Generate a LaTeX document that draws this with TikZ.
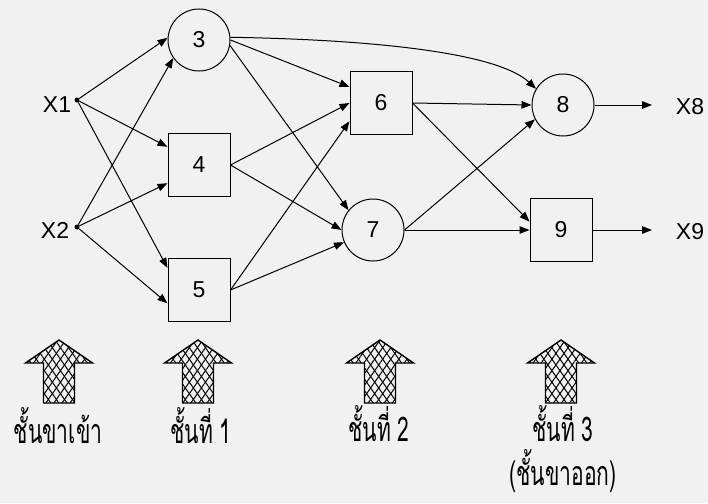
\documentclass[tikz,border=0pt]{standalone}
\usepackage{fontspec}
\setmainfont{Liberation Sans}
\newfontfamily\thaifont[Script=Thai,FakeStretch=0.62]{Loma}
\usetikzlibrary{arrows.meta,patterns.meta}
\definecolor{bg}{RGB}{241,241,241}
\begin{document}
\begin{tikzpicture}[x=1pt,y=-1pt,
  every node/.style={font=\fontsize{23}{26}\selectfont},
  boxnode/.style={draw,line width=1pt,minimum width=62pt,minimum height=63pt,inner sep=0pt},
  circnode/.style={draw,circle,line width=1pt,minimum size=62pt,inner sep=0pt},
  dotnode/.style={circle,fill,inner sep=0pt,minimum size=5pt},
  conn/.style={line width=1pt,-{Triangle[length=10pt,width=7.5pt]}},
  thailbl/.style={font=\thaifont\fontsize{34}{36}\selectfont,inner sep=0pt,anchor=base},
  xlbl/.style={inner sep=0pt}]
\fill[bg] (0,0) rectangle (708,503);
\useasboundingbox (0,0) rectangle (708,503);

% input points
\node[dotnode] (x1) at (77,100) {};
\node[dotnode] (x2) at (77,227) {};
\node[xlbl] (lx1) at (57,105) {X1};
\node[xlbl] (lx2) at (55,230) {X2};

% layer 1
\node[circnode] (n3) at (199,40) {3};
\node[boxnode] (n4) at (199,165) {4};
\node[boxnode] (n5) at (199,290) {5};
% layer 2
\node[boxnode] (n6) at (381,103) {6};
\node[circnode] (n7) at (373,230) {7};
% layer 3
\node[circnode] (n8) at (563,105) {8};
\node[boxnode] (n9) at (561,230) {9};

% outputs
\coordinate (e8) at (652,105);
\coordinate (e9) at (652,230);
\node[xlbl] (lx8) at (690,107) {X8};
\node[xlbl] (lx9) at (690,232) {X9};

% connectors
\draw[conn] (x1) -- (n3.176);
\draw[conn] (x1) -- (n4.150);
\draw[conn] (x1) -- (n5.145);
\draw[conn] (x2) -- (n3.215);
\draw[conn] (x2) -- (n4.210);
\draw[conn] (x2) -- (n5.203);

\draw[conn] (n3.0) -- (n6.153);
\draw[conn] (n3.-10) -- (n7.141);
\draw[conn] (n3.5) .. controls (390,40) and (500,55) .. (n8.149);
\draw[conn] (n4.east) -- (n6.180);
\draw[conn] (n4.east) -- (n7.180);
\draw[conn] (n5.east) -- (n6.210);
\draw[conn] (n5.east) -- (n7.203);

\draw[conn] (n6.east) -- (n8.180);
\draw[conn] (n6.east) -- (n9.165);
\draw[conn] (n7.east) -- (n8.207);
\draw[conn] (n7.east) -- (n9.180);

\draw[conn] (n8.east) -- (e8);
\draw[conn] (n9.east) -- (e9);

% hatched layer arrows
\foreach \cx in {59,198,380,561} {
  \path[pattern={Lines[angle=55,distance=6.6pt,line width=1pt]}]
    (\cx-15.5,403) -- (\cx-15.5,363) -- (\cx-33.5,363) -- (\cx,340) -- (\cx+33.5,363) -- (\cx+15.5,363) -- (\cx+15.5,403) -- cycle;
  \path[pattern={Lines[angle=-55,distance=6.6pt,line width=1pt]}]
    (\cx-15.5,403) -- (\cx-15.5,363) -- (\cx-33.5,363) -- (\cx,340) -- (\cx+33.5,363) -- (\cx+15.5,363) -- (\cx+15.5,403) -- cycle;
  \draw[line width=1.4pt,line join=miter]
    (\cx-15.5,403) -- (\cx-15.5,363) -- (\cx-33.5,363) -- (\cx,340) -- (\cx+33.5,363) -- (\cx+15.5,363) -- (\cx+15.5,403) -- cycle;
}

% layer labels
\node[thailbl] (t0) at (58,443) {ชั้นขาเข้า};
\node[thailbl] (t1) at (201,443) {ชั้นที่ 1};
\node[thailbl] (t2) at (379,441) {ชั้นที่ 2};
\node[thailbl] (t3) at (563,441) {ชั้นที่ 3};
\node[thailbl] (t4) at (563,485) {(ชั้นขาออก)};
\end{tikzpicture}
\end{document}
